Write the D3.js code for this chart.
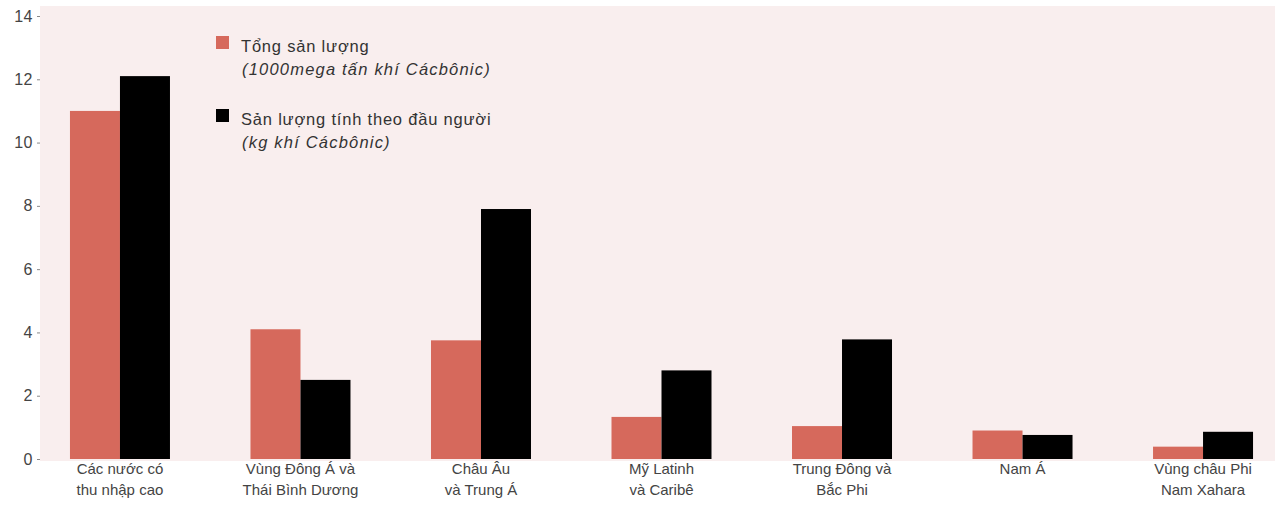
<!DOCTYPE html>
<html>
<head>
<meta charset="utf-8">
<script src="https://cdn.jsdelivr.net/npm/d3@7"></script>
<style>
    body { margin: 0; background: #fff; }
    svg { display: block; font-family: "Liberation Sans", Arial, sans-serif; }
</style>
</head>
<body>
<div id="chart"></div>
<script>
// Data
const categories = [
    ["Các nước có", "thu nhập cao"],
    ["Vùng Đông Á và", "Thái Bình Dương"],
    ["Châu Âu", "và Trung Á"],
    ["Mỹ Latinh", "và Caribê"],
    ["Trung Đông và", "Bắc Phi"],
    ["Nam Á"],
    ["Vùng châu Phi", "Nam Xahara"]
];
const totalOutput = [11.0, 4.1, 3.75, 1.33, 1.04, 0.9, 0.39];
const perCapita = [12.1, 2.5, 7.9, 2.8, 3.78, 0.76, 0.86];
const yTicks = [0, 2, 4, 6, 8, 10, 12, 14];
const legendItems = [
    { name: "Tổng sản lượng", unit: "(1000mega tấn khí Cácbônic)", color: "#d6695c" },
    { name: "Sản lượng tính theo đầu người", unit: "(kg khí Cácbônic)", color: "#000" }
];

document.addEventListener("DOMContentLoaded", function() {
    const width = 1275;
    const height = 508;
    const margin = { top: 16, right: -8, bottom: 49, left: 40 };
    const baseY = height - margin.bottom;

    const svg = d3.select("#chart")
        .append("svg")
        .attr("width", width)
        .attr("height", height);

    // Pink plot background
    svg.append("rect")
        .attr("x", margin.left)
        .attr("y", 6)
        .attr("width", width - margin.left)
        .attr("height", baseY + 2 - 6)
        .attr("fill", "#f9eeee");

    const keys = categories.map(d => d.join(" "));

    const x = d3.scaleBand()
        .domain(keys)
        .range([margin.left, width - margin.right])
        .paddingInner(0.446)
        .paddingOuter(0.166);

    const y = d3.scaleLinear()
        .domain([0, 14])
        .range([baseY, margin.top]);

    const sub = d3.scaleBand()
        .domain(["total", "perCapita"])
        .range([0, x.bandwidth()]);

    // Y axis
    const yAxis = svg.append("g")
        .attr("transform", `translate(${margin.left},0)`)
        .call(d3.axisLeft(y).tickValues(yTicks).tickSize(3).tickPadding(4));
    yAxis.select(".domain").remove();
    yAxis.selectAll(".tick line").attr("stroke", "#888");
    yAxis.selectAll(".tick text")
        .style("font-size", "16px")
        .style("letter-spacing", "0.5px")
        .style("fill", "#444");

    // Bars
    const groups = svg.append("g")
        .selectAll("g")
        .data(keys)
        .enter()
        .append("g")
        .attr("transform", d => `translate(${x(d)},0)`);

    groups.append("rect")
        .attr("x", sub("total"))
        .attr("y", (d, i) => y(totalOutput[i]))
        .attr("width", sub.bandwidth())
        .attr("height", (d, i) => baseY - y(totalOutput[i]))
        .attr("fill", legendItems[0].color);

    groups.append("rect")
        .attr("x", sub("perCapita"))
        .attr("y", (d, i) => y(perCapita[i]))
        .attr("width", sub.bandwidth())
        .attr("height", (d, i) => baseY - y(perCapita[i]))
        .attr("fill", legendItems[1].color);

    // Category labels (two lines)
    svg.append("g")
        .selectAll("text")
        .data(categories)
        .enter()
        .append("text")
        .attr("text-anchor", "middle")
        .style("font-size", "15px")
        .style("fill", "#444")
        .each(function(lines, i) {
            const cx = x(keys[i]) + x.bandwidth() / 2;
            lines.forEach((line, j) => {
                d3.select(this)
                    .append("tspan")
                    .attr("x", cx)
                    .attr("y", baseY + 15 + j * 21)
                    .text(line);
            });
        });

    // Legend
    const legend = svg.append("g")
        .selectAll("g")
        .data(legendItems)
        .enter()
        .append("g")
        .attr("transform", (d, i) => `translate(216,${36 + i * 73})`);

    legend.append("rect")
        .attr("width", 13)
        .attr("height", 13)
        .attr("fill", d => d.color);

    legend.append("text")
        .attr("x", 25)
        .attr("y", 16)
        .style("font-size", "16.5px")
        .style("letter-spacing", "0.8px")
        .style("fill", "#333")
        .text(d => d.name);

    legend.append("text")
        .attr("x", 26)
        .attr("y", 39)
        .style("font-size", "16.5px")
        .style("font-style", "italic")
        .style("letter-spacing", "1.2px")
        .style("fill", "#333")
        .text(d => d.unit);
});
</script>
</body>
</html>
